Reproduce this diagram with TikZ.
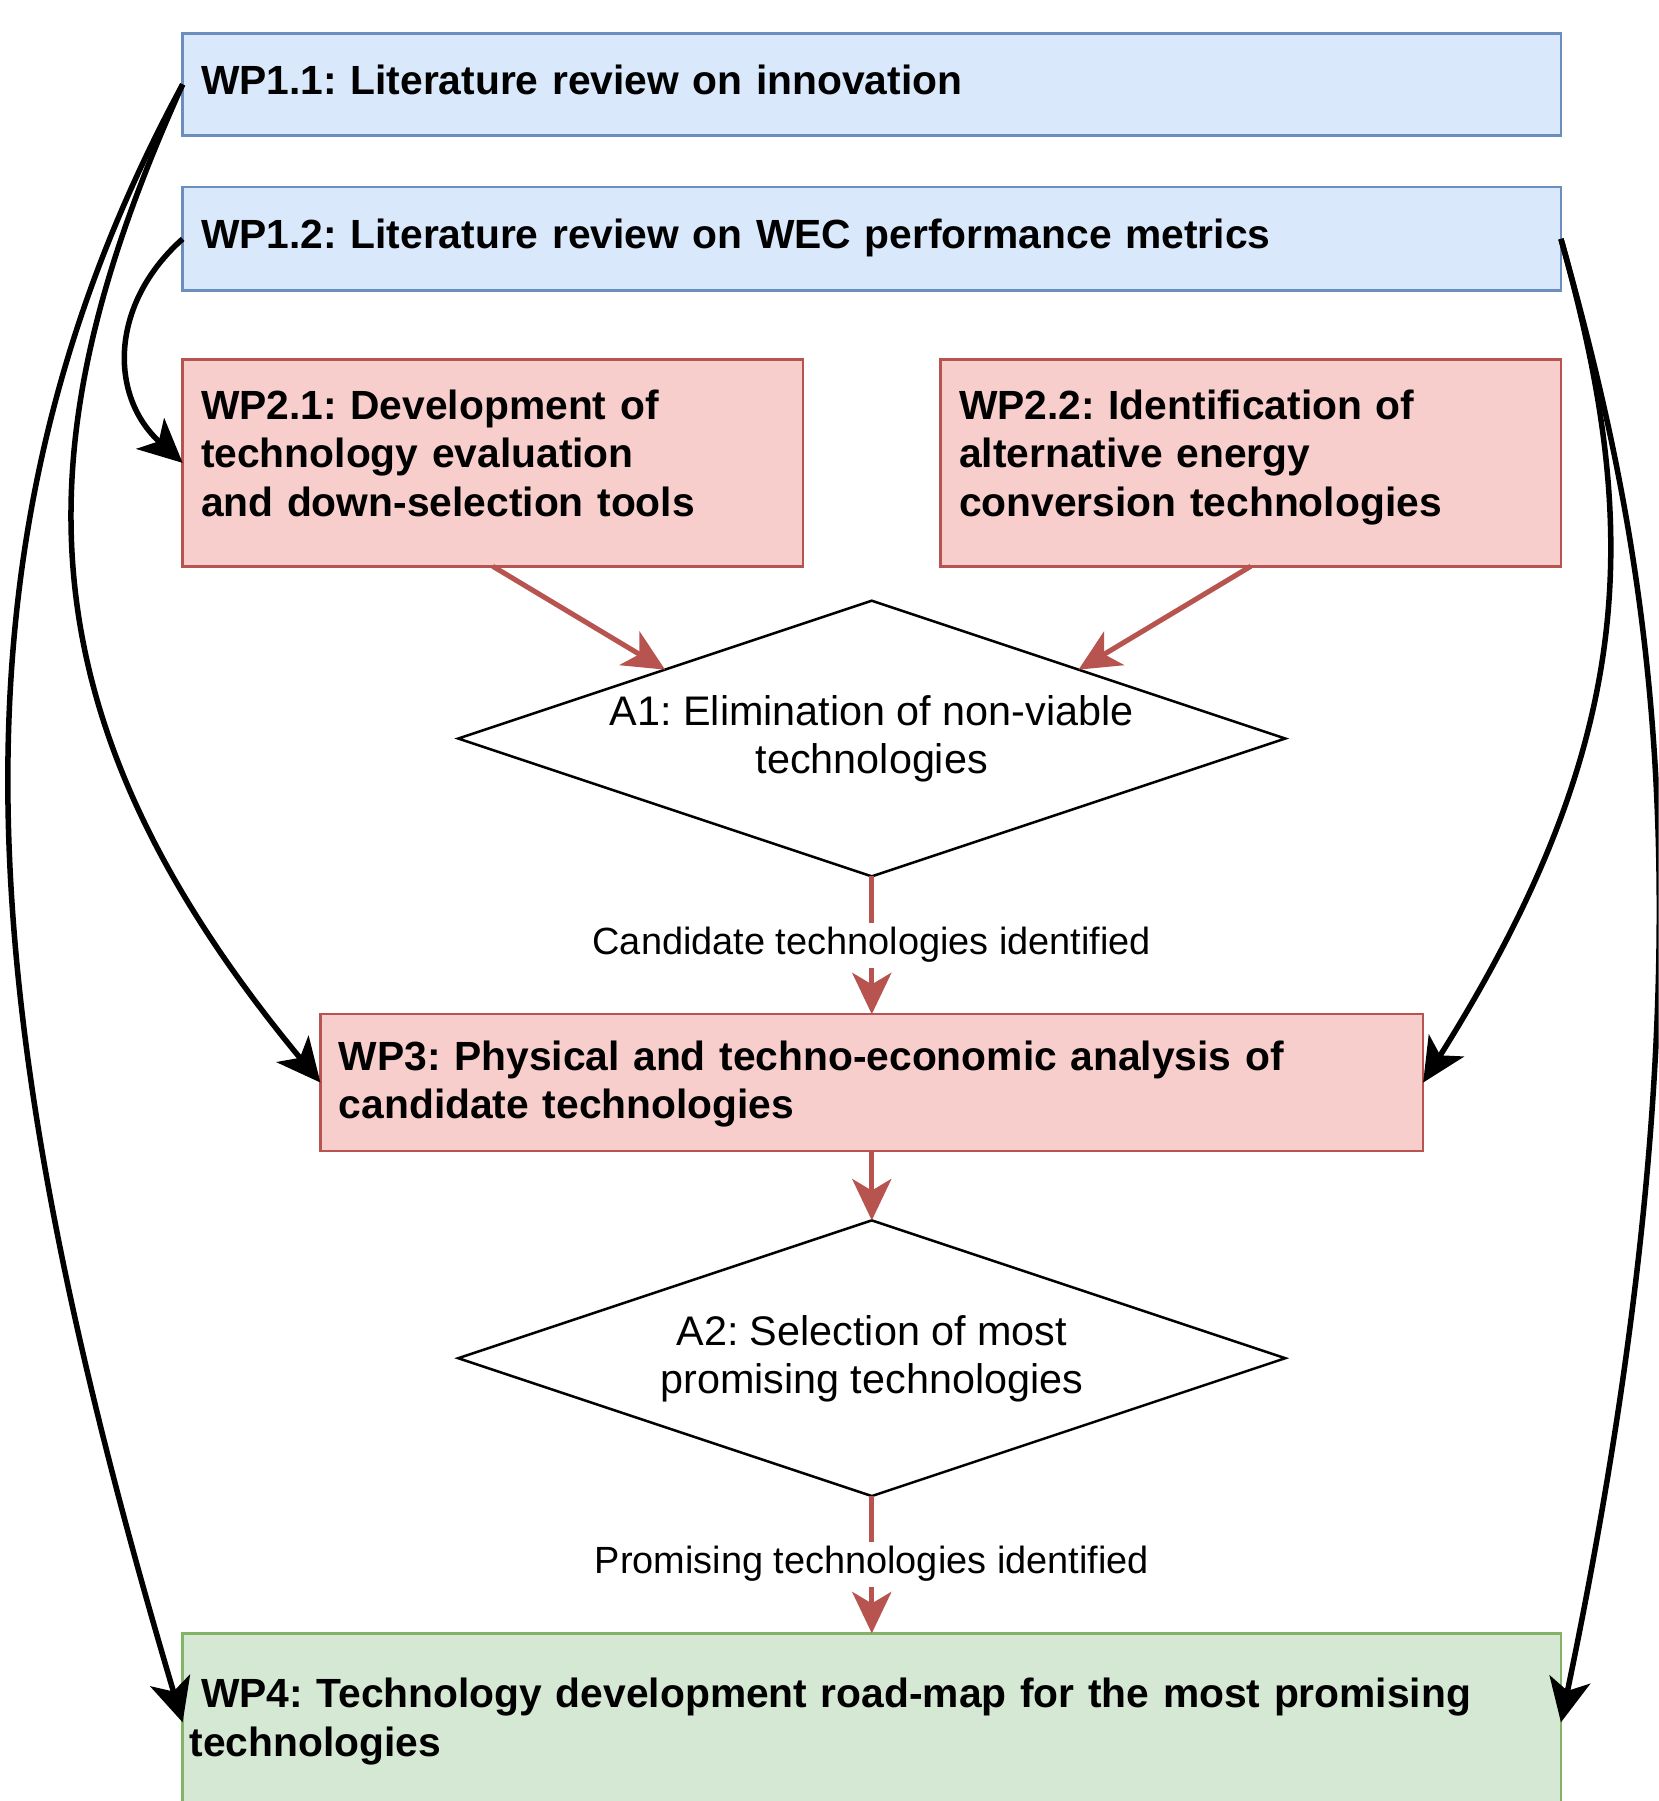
\documentclass[tikz,border=0pt]{standalone}
\usepackage{fontspec}
\setmainfont{Liberation Sans}
\usetikzlibrary{arrows.meta,shapes.geometric,calc}
\definecolor{bfill}{HTML}{DAE8FC}
\definecolor{bdraw}{HTML}{6C8EBF}
\definecolor{rfill}{HTML}{F8CECC}
\definecolor{rdraw}{HTML}{B85450}
\definecolor{gfill}{HTML}{D5E8D4}
\definecolor{gdraw}{HTML}{82B366}
\frenchspacing
\begin{document}
\frenchspacing
\begin{tikzpicture}[x=0.5pt,y=-0.5pt,
  box/.style={draw, line width=1.1pt, rectangle, inner ysep=0pt, inner xsep=8pt, outer sep=0pt,
    align=left, font=\bfseries\fontsize{17.75}{21}\selectfont\frenchspacing,
    execute at begin node=\strut, execute at end node=\strut},
  bluebox/.style={box, fill=bfill, draw=bdraw},
  redbox/.style={box, fill=rfill, draw=rdraw},
  greenbox/.style={box, fill=gfill, draw=gdraw},
  dia/.style={diamond, draw=black, fill=white, line width=1.1pt, aspect=3, inner sep=0pt, outer sep=0pt,
    minimum width=360pt, minimum height=120pt},
  diatext/.style={inner sep=0pt, align=center, font=\fontsize{18}{21}\selectfont\frenchspacing,
    execute at begin node=\strut, execute at end node=\strut},
  redarrow/.style={draw=rdraw, line width=2.2pt, -{Stealth[length=18pt, width=17pt, inset=5pt]}},
  blkarrow/.style={draw=black, line width=2.4pt, -{Stealth[length=19pt, width=18pt, inset=5pt]}},
  elabel/.style={fill=white, inner sep=0pt, text=black, font=\fontsize{16.5}{19.8}\selectfont,
    execute at begin node=\strut}
]
\clip (0,0) rectangle (1444,1568);
\fill[white] (0,0) rectangle (1444,1568);

\node[bluebox, text width=584pt, minimum height=44.5pt] (wp11) at (759,73.5) {WP1.1: Literature review on innovation};
\node[bluebox, text width=584pt, minimum height=45pt] (wp12) at (759,208) {WP1.2: Literature review on WEC performance metrics};
\node[redbox, text width=254pt, minimum height=90pt, execute at end node={\rule[-10.3pt]{0pt}{1pt}}] (wp21) at (429,403) {WP2.1: Development of\\technology evaluation\\and down-selection tools};
\node[redbox, text width=254pt, minimum height=90pt, execute at end node={\rule[-10.3pt]{0pt}{1pt}}] (wp22) at (1089,403) {WP2.2: Identification of\\alternative energy\\conversion technologies};
\node[dia] (a1) at (759,643) {};
\node[diatext] (a1t) at ($(a1.center)+(0,3)$) {A1: Elimination of non-viable\\technologies};
\node[redbox, text width=464pt, minimum height=59.5pt, execute at begin node={\rule{0pt}{16.7pt}}] (wp3) at (759,942.5) {WP3: Physical and techno-economic analysis of\\candidate technologies};
\node[dia] (a2) at (759,1182.5) {};
\node[diatext] (a2t) at ($(a2.center)+(0,3)$) {A2: Selection of most\\promising technologies};
\node[greenbox, inner xsep=3pt, text width=594pt, minimum height=77.5pt] (wp4) at (759,1499.5) {\hspace*{5pt}WP4: Technology development road-map for the most promising\\technologies};

\draw[redarrow] (wp21.south) -- ($(a1.west)!0.5!(a1.north)$);
\draw[redarrow] (wp22.south) -- ($(a1.east)!0.5!(a1.north)$);
\draw[redarrow] (a1.south) -- node[elabel] {Candidate technologies identified} (wp3.north);
\draw[redarrow] (wp3.south) -- (a2.north);
\draw[redarrow] (a2.south) -- node[elabel] {Promising technologies identified} (wp4.north);

\draw[blkarrow] (wp11.west) .. controls (-57,473) and (-28,871) .. (wp4.west);
\draw[blkarrow] (wp11.west) .. controls (24,373) and (5,612) .. (wp3.west);
\draw[blkarrow] (wp12.west) .. controls (95,265) and (95,345) .. (wp21.west);
\draw[blkarrow] (wp12.east) .. controls (1429,458) and (1428,642) .. (wp3.east);
\draw[blkarrow] (wp12.east) .. controls (1437,486) and (1502,813) .. (wp4.east);
\end{tikzpicture}
\end{document}
